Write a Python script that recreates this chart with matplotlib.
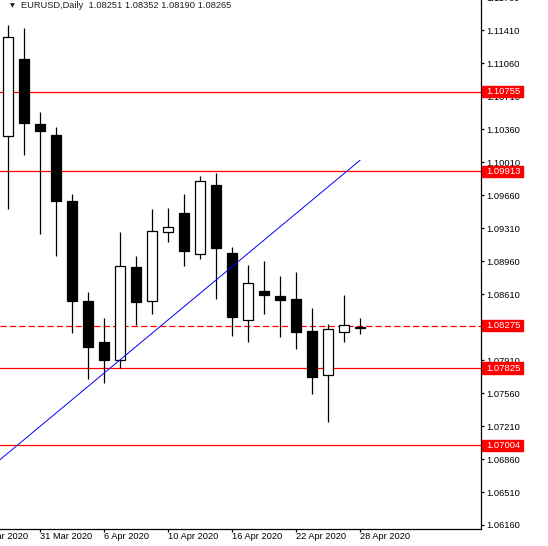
import matplotlib
matplotlib.use("Agg")
import matplotlib.pyplot as plt
import matplotlib.transforms as mtransforms
from matplotlib.patches import Rectangle
import numpy as np

plt.rcParams['font.family'] = ['Liberation Sans', 'DejaVu Sans']

# EURUSD daily candles
dates = ['27 Mar', '30 Mar', '31 Mar', '1 Apr', '2 Apr', '3 Apr', '6 Apr', '7 Apr',
         '8 Apr', '9 Apr', '10 Apr', '13 Apr', '14 Apr', '15 Apr', '16 Apr', '17 Apr',
         '20 Apr', '21 Apr', '22 Apr', '23 Apr', '24 Apr', '27 Apr', '28 Apr']
opens = [1.10283, 1.11099, 1.10410, 1.10296, 1.09596, 1.08533, 1.08101, 1.07907,
         1.08900, 1.08539, 1.09264, 1.09472, 1.09031, 1.09766, 1.09045, 1.08331,
         1.08642, 1.08589, 1.08557, 1.08218, 1.07748, 1.08204, 1.08251]
highs = [1.11463, 1.11428, 1.10537, 1.10381, 1.09671, 1.08631, 1.08356, 1.09271,
         1.09013, 1.09512, 1.09522, 1.09671, 1.09862, 1.09893, 1.09112, 1.08918,
         1.08960, 1.08801, 1.08843, 1.08462, 1.08290, 1.08599, 1.08352]
lows = [1.09515, 1.10087, 1.09250, 1.09016, 1.08196, 1.07709, 1.07666, 1.07825,
        1.08278, 1.08398, 1.09165, 1.08910, 1.08978, 1.08560, 1.08161, 1.08104,
        1.08401, 1.08157, 1.08024, 1.07553, 1.07256, 1.08104, 1.08190]
closes = [1.11333, 1.10427, 1.10342, 1.09600, 1.08539, 1.08051, 1.07913, 1.08907,
          1.08525, 1.09278, 1.09317, 1.09069, 1.09809, 1.09101, 1.08369, 1.08724,
          1.08603, 1.08546, 1.08210, 1.07733, 1.08234, 1.08281, 1.08265]

# horizontal levels and trend line
levels = [1.10755, 1.09913, 1.07825, 1.07004]
bid_level = 1.08275
trend_x = [-0.5, 22]
trend_y = [1.06853, 1.10028]

price_ticks = [1.06160, 1.06510, 1.06860, 1.07210, 1.07560, 1.07910, 1.08260,
               1.08610, 1.08960, 1.09310, 1.09660, 1.10010, 1.10360, 1.10710,
               1.11060, 1.11410, 1.11760]
date_labels = ['25 Mar 2020', '31 Mar 2020', '6 Apr 2020', '10 Apr 2020',
               '16 Apr 2020', '22 Apr 2020', '28 Apr 2020']
date_pos = [-2, 2, 6, 10, 14, 18, 22]

W, H = 548, 546
fig = plt.figure(figsize=(W / 100, H / 100), dpi=100)
ax = fig.add_axes([0, 17 / H, 481 / W, 541 / H])

px = 0.0035 / 33  # price per pixel

o = np.array(opens)
c = np.array(closes)
x = np.arange(len(dates))
up = c >= o
ax.vlines(x, lows, highs, color='black', lw=0.9, zorder=2)
ax.bar(x, np.maximum(np.abs(c - o), px), bottom=np.minimum(o, c), width=0.6,
       color=np.where(up, 'white', 'black'), edgecolor='black', lw=0.9, zorder=3)

for lv in levels:
    ax.axhline(lv, color='#ff0000', lw=0.9, zorder=1)
ax.axhline(bid_level, color='#ff0000', lw=0.9, ls=(0, (5, 2.5)), zorder=1)
ax.plot(trend_x, trend_y, color='#0000ff', lw=0.7, zorder=4)

# axes look
for s in ['left', 'top']:
    ax.spines[s].set_visible(False)
for s in ['right', 'bottom']:
    ax.spines[s].set_linewidth(0.9)
ax.yaxis.tick_right()
ax.set_yticks(price_ticks)
ax.set_yticklabels(['%.5f' % t for t in price_ticks])
ax.tick_params(axis='y', direction='out', length=2.2, width=0.9, pad=1.4,
               labelsize=6.7, colors='black')
ax.set_xticks(date_pos)
ax.tick_params(axis='x', direction='out', length=2.4, width=0.9, labelbottom=False)

ax.set_ylim(1.11410 - 499 * px, 1.11410 + 42 * px)
ax.set_xlim(-0.5, (481 - 8) / 16)

trans = mtransforms.blended_transform_factory(ax.transData, ax.transAxes) + \
    mtransforms.ScaledTranslation(0, -0.03, fig.dpi_scale_trans)
for pos, lab in zip(date_pos, date_labels):
    ax.text(pos, 0, lab, transform=trans, ha='left', va='top', fontsize=6.7,
            color='black', clip_on=False)

# red price labels on the scale
btrans = mtransforms.blended_transform_factory(ax.transAxes, ax.transData)
for lv in levels + [bid_level]:
    ax.add_patch(Rectangle((1 + 1.2 / 481, lv - 5.6 * px), 41 / 481, 11.2 * px,
                           transform=btrans, color='#ff0000', clip_on=False, zorder=9))
    ax.text(1 + 5.5 / 481, lv, '%.5f' % lv, transform=btrans, ha='left', va='center',
            fontsize=6.8, color='white', clip_on=False, zorder=10)

fig.text(12 / W, 1 - 5.5 / H, '\u25bc', fontsize=4.5, ha='center', va='center',
         family='DejaVu Sans', color='#202020')
fig.text(20.7 / W, 1 - 5.8 / H,
         'EURUSD,Daily  %.5f %.5f %.5f %.5f' % (opens[-1], highs[-1], lows[-1], closes[-1]),
         ha='left', va='center', fontsize=6.7, color='#202020')

fig.savefig('out.png', dpi=100, facecolor='white')
